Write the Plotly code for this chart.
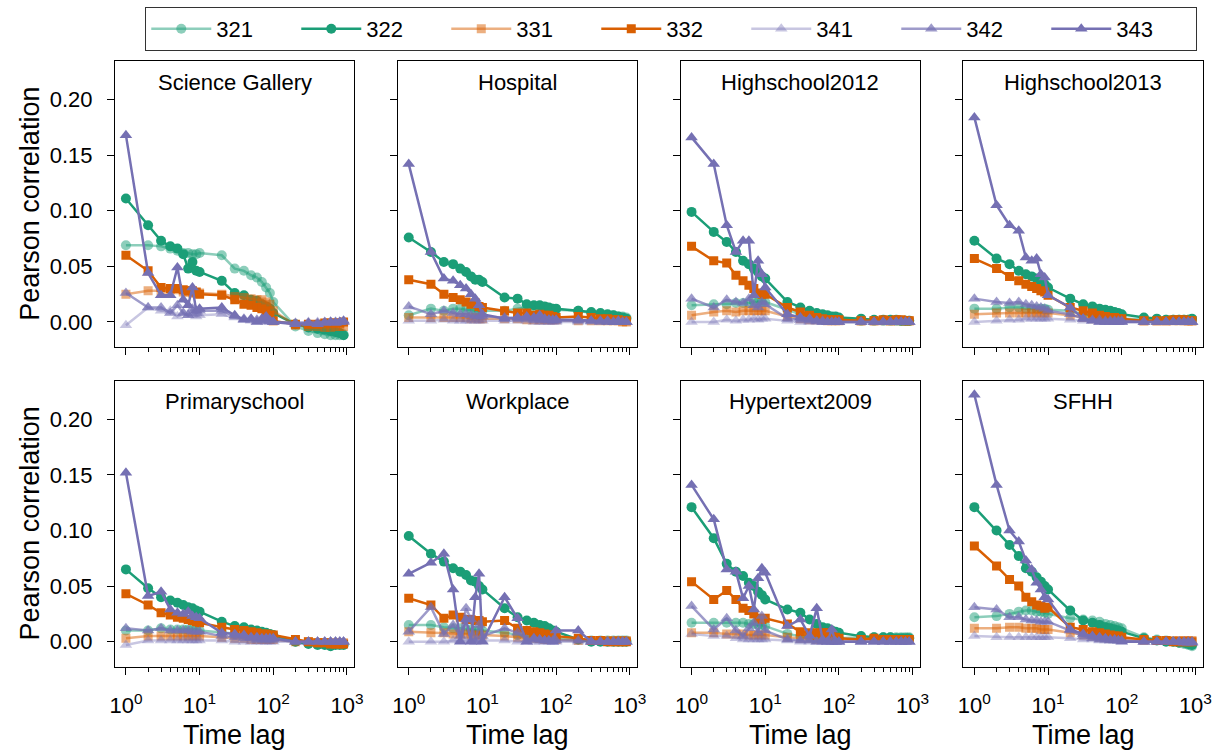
import plotly.graph_objects as go

# ---------------- data ----------------
lags = [1, 2, 3, 4, 5, 6, 7, 8, 9, 10, 20, 30, 40, 50, 60, 70, 80, 90, 100,
        200, 300, 400, 500, 600, 700, 800, 900]
series_names = ["321", "322", "331", "332", "341", "342", "343"]
panel_titles = ["Science Gallery", "Hospital", "Highschool2012", "Highschool2013",
                "Primaryschool", "Workplace", "Hypertext2009", "SFHH"]
y_tick_values = [0.0, 0.05, 0.10, 0.15, 0.20]
y_tick_labels = ["0.00", "0.05", "0.10", "0.15", "0.20"]
x_tick_values = [1, 10, 100, 1000]
x_tick_labels = ["10<sup>0</sup>", "10<sup>1</sup>", "10<sup>2</sup>", "10<sup>3</sup>"]
x_minor_values = [2, 3, 4, 5, 6, 7, 8, 9, 20, 30, 40, 50, 60, 70, 80, 90,
                  200, 300, 400, 500, 600, 700, 800, 900]
y_label = "Pearson correlation"
x_label = "Time lag"

# Science Gallery
sg_321 = [0.069, 0.069, 0.068, 0.066, 0.064, 0.062, 0.062, 0.061, 0.061, 0.062, 0.060, 0.048, 0.046, 0.042, 0.040, 0.036, 0.031, 0.026, 0.018, -0.004, -0.008, -0.010, -0.011, -0.012, -0.012, -0.012, -0.011]
sg_322 = [0.111, 0.087, 0.073, 0.068, 0.066, 0.061, 0.048, 0.054, 0.046, 0.045, 0.037, 0.026, 0.024, 0.020, 0.019, 0.016, 0.014, 0.012, 0.008, -0.002, -0.005, -0.006, -0.007, -0.008, -0.009, -0.010, -0.012]
sg_331 = [0.025, 0.028, 0.028, 0.029, 0.029, 0.027, 0.027, 0.026, 0.026, 0.026, 0.025, 0.023, 0.022, 0.021, 0.020, 0.020, 0.018, 0.016, 0.010, -0.003, -0.004, -0.004, -0.005, -0.005, -0.004, -0.004, -0.004]
sg_332 = [0.060, 0.046, 0.031, 0.030, 0.030, 0.029, 0.028, 0.028, 0.027, 0.025, 0.024, 0.020, 0.016, 0.015, 0.013, 0.012, 0.010, 0.006, 0.001, -0.002, -0.002, -0.002, -0.001, -0.001, -0.001, -0.001, 0.000]
sg_341 = [-0.003, 0.013, 0.010, 0.010, 0.005, 0.008, 0.006, 0.007, 0.005, 0.006, 0.007, 0.004, 0.002, 0.001, 0.001, 0.001, 0.000, 0.000, 0.000, -0.001, 0.000, 0.000, 0.000, 0.000, 0.000, 0.000, 0.000]
sg_342 = [0.026, 0.013, 0.013, 0.008, 0.015, 0.008, 0.006, 0.012, 0.008, 0.010, 0.010, 0.005, 0.003, 0.002, 0.002, 0.001, 0.001, 0.001, 0.000, -0.001, -0.001, -0.001, 0.000, 0.000, 0.000, 0.000, 0.000]
sg_343 = [0.168, 0.044, 0.024, 0.024, 0.049, 0.020, 0.015, 0.031, 0.010, 0.012, 0.013, 0.006, 0.002, 0.003, 0.000, 0.003, 0.005, 0.001, 0.000, -0.002, -0.001, -0.002, -0.001, 0.000, -0.001, 0.000, 0.001]

# Hospital
ho_321 = [0.006, 0.012, 0.010, 0.012, 0.012, 0.011, 0.011, 0.010, 0.010, 0.010, 0.010, 0.012, 0.013, 0.013, 0.013, 0.012, 0.012, 0.012, 0.011, 0.010, 0.008, 0.007, 0.006, 0.006, 0.005, 0.005, 0.004]
ho_322 = [0.076, 0.063, 0.054, 0.052, 0.048, 0.045, 0.041, 0.038, 0.038, 0.036, 0.022, 0.021, 0.016, 0.015, 0.015, 0.014, 0.013, 0.012, 0.012, 0.010, 0.009, 0.008, 0.007, 0.006, 0.005, 0.004, 0.003]
ho_331 = [0.004, 0.004, 0.004, 0.004, 0.004, 0.004, 0.003, 0.004, 0.003, 0.003, 0.003, 0.003, 0.002, 0.002, 0.002, 0.002, 0.002, 0.002, 0.002, 0.001, 0.001, 0.001, 0.001, 0.001, 0.001, 0.000, 0.000]
ho_332 = [0.038, 0.034, 0.025, 0.022, 0.020, 0.018, 0.016, 0.017, 0.014, 0.013, 0.010, 0.008, 0.008, 0.006, 0.007, 0.006, 0.006, 0.005, 0.004, 0.005, 0.004, 0.003, 0.003, 0.002, 0.002, 0.001, 0.001]
ho_341 = [0.001, 0.001, 0.002, 0.001, 0.001, 0.001, 0.001, 0.001, 0.001, 0.001, 0.001, 0.001, 0.001, 0.000, 0.000, 0.000, 0.000, 0.000, 0.000, 0.000, 0.000, 0.000, 0.000, 0.000, 0.000, 0.000, 0.000]
ho_342 = [0.014, 0.007, 0.010, 0.008, 0.007, 0.007, 0.006, 0.005, 0.005, 0.005, 0.004, 0.003, 0.003, 0.002, 0.002, 0.002, 0.002, 0.001, 0.001, 0.001, 0.001, 0.000, 0.000, 0.000, 0.000, 0.000, 0.000]
ho_343 = [0.142, 0.063, 0.039, 0.037, 0.033, 0.030, 0.025, 0.021, 0.015, 0.007, 0.003, 0.004, 0.005, 0.004, 0.006, 0.003, 0.002, 0.002, 0.002, 0.002, 0.001, 0.001, 0.001, 0.000, 0.001, 0.000, 0.000]

# Highschool2012
h12_321 = [0.015, 0.016, 0.016, 0.017, 0.017, 0.017, 0.018, 0.018, 0.018, 0.018, 0.011, 0.007, 0.005, 0.004, 0.003, 0.003, 0.002, 0.002, 0.002, 0.001, 0.001, 0.001, 0.001, 0.001, 0.001, 0.001, 0.001]
h12_322 = [0.099, 0.081, 0.072, 0.063, 0.055, 0.052, 0.048, 0.045, 0.041, 0.039, 0.018, 0.013, 0.010, 0.008, 0.007, 0.006, 0.005, 0.005, 0.004, 0.003, 0.002, 0.002, 0.002, 0.002, 0.001, 0.001, 0.001]
h12_331 = [0.006, 0.009, 0.010, 0.009, 0.010, 0.010, 0.010, 0.010, 0.010, 0.010, 0.005, 0.003, 0.002, 0.002, 0.002, 0.001, 0.001, 0.001, 0.001, 0.001, 0.001, 0.001, 0.001, 0.001, 0.001, 0.001, 0.001]
h12_332 = [0.068, 0.055, 0.053, 0.042, 0.037, 0.033, 0.030, 0.026, 0.025, 0.025, 0.013, 0.009, 0.006, 0.004, 0.003, 0.002, 0.002, 0.002, 0.002, 0.001, 0.001, 0.002, 0.001, 0.002, 0.002, 0.001, 0.001]
h12_341 = [0.000, 0.000, 0.002, 0.001, 0.002, 0.002, 0.003, 0.002, 0.003, 0.003, 0.001, 0.000, 0.000, 0.000, 0.000, 0.000, 0.000, 0.000, 0.000, 0.000, 0.000, 0.000, 0.000, 0.000, 0.000, 0.000, 0.000]
h12_342 = [0.021, 0.013, 0.020, 0.018, 0.017, 0.021, 0.015, 0.013, 0.018, 0.016, 0.003, 0.002, 0.001, 0.001, 0.001, 0.000, 0.000, 0.000, 0.000, 0.000, 0.000, 0.000, 0.000, 0.000, 0.000, 0.000, 0.000]
h12_343 = [0.166, 0.142, 0.087, 0.063, 0.073, 0.073, 0.024, 0.055, 0.043, 0.031, 0.007, 0.004, 0.003, 0.001, 0.000, 0.000, 0.000, 0.000, 0.000, 0.000, 0.000, 0.000, 0.000, 0.000, 0.000, 0.000, 0.000]

# Highschool2013
h13_321 = [0.012, 0.012, 0.013, 0.013, 0.012, 0.012, 0.012, 0.012, 0.012, 0.011, 0.010, 0.007, 0.006, 0.005, 0.004, 0.004, 0.003, 0.003, 0.003, 0.002, 0.002, 0.002, 0.002, 0.002, 0.002, 0.002, 0.002]
h13_322 = [0.073, 0.057, 0.052, 0.046, 0.043, 0.041, 0.039, 0.036, 0.034, 0.031, 0.021, 0.016, 0.014, 0.012, 0.011, 0.010, 0.009, 0.008, 0.007, 0.004, 0.003, 0.002, 0.002, 0.002, 0.002, 0.002, 0.003]
h13_331 = [0.007, 0.008, 0.008, 0.008, 0.008, 0.008, 0.008, 0.008, 0.008, 0.008, 0.006, 0.004, 0.003, 0.003, 0.002, 0.002, 0.002, 0.002, 0.002, 0.001, 0.001, 0.001, 0.001, 0.001, 0.001, 0.001, 0.001]
h13_332 = [0.057, 0.048, 0.041, 0.037, 0.034, 0.032, 0.030, 0.028, 0.027, 0.024, 0.013, 0.010, 0.008, 0.006, 0.005, 0.004, 0.004, 0.003, 0.003, 0.001, 0.001, 0.001, 0.002, 0.002, 0.002, 0.001, 0.001]
h13_341 = [0.000, 0.001, 0.002, 0.002, 0.003, 0.003, 0.003, 0.003, 0.003, 0.003, 0.002, 0.001, 0.001, 0.000, 0.000, 0.000, 0.000, 0.000, 0.000, 0.000, 0.000, 0.000, 0.000, 0.000, 0.000, 0.000, 0.000]
h13_342 = [0.021, 0.018, 0.017, 0.018, 0.016, 0.015, 0.014, 0.013, 0.012, 0.010, 0.007, 0.003, 0.002, 0.002, 0.001, 0.001, 0.001, 0.001, 0.001, 0.000, 0.000, 0.000, 0.000, 0.000, 0.000, 0.000, 0.000]
h13_343 = [0.184, 0.105, 0.087, 0.082, 0.058, 0.055, 0.057, 0.043, 0.040, 0.024, 0.013, 0.003, 0.001, 0.000, 0.000, 0.000, 0.000, 0.000, 0.000, 0.000, 0.000, 0.000, 0.000, 0.000, 0.000, 0.000, 0.000]

# Primaryschool
ps_321 = [0.010, 0.010, 0.012, 0.011, 0.011, 0.011, 0.011, 0.011, 0.011, 0.010, 0.008, 0.007, 0.006, 0.006, 0.005, 0.005, 0.005, 0.004, 0.004, 0.000, -0.001, -0.002, -0.002, -0.002, -0.002, -0.002, -0.002]
ps_322 = [0.065, 0.048, 0.040, 0.037, 0.035, 0.033, 0.031, 0.030, 0.028, 0.027, 0.018, 0.014, 0.013, 0.011, 0.010, 0.009, 0.008, 0.007, 0.006, 0.000, -0.002, -0.003, -0.003, -0.004, -0.003, -0.003, -0.003]
ps_331 = [0.003, 0.005, 0.005, 0.005, 0.005, 0.005, 0.005, 0.005, 0.005, 0.005, 0.004, 0.003, 0.003, 0.002, 0.002, 0.002, 0.002, 0.002, 0.002, 0.000, 0.000, -0.001, -0.001, -0.001, -0.001, -0.001, -0.001]
ps_332 = [0.043, 0.033, 0.026, 0.024, 0.022, 0.021, 0.020, 0.019, 0.018, 0.017, 0.013, 0.011, 0.010, 0.009, 0.008, 0.007, 0.007, 0.006, 0.006, 0.002, 0.000, -0.001, -0.001, -0.002, -0.002, -0.002, -0.002]
ps_341 = [-0.003, 0.001, 0.001, 0.001, 0.001, 0.001, 0.001, 0.001, 0.001, 0.001, 0.001, 0.000, 0.000, 0.000, 0.000, 0.000, 0.000, 0.000, 0.000, 0.000, 0.000, 0.000, 0.000, 0.000, 0.000, 0.000, 0.000]
ps_342 = [0.012, 0.010, 0.012, 0.010, 0.010, 0.010, 0.010, 0.009, 0.009, 0.009, 0.005, 0.004, 0.003, 0.003, 0.002, 0.002, 0.002, 0.002, 0.002, 0.000, 0.000, 0.000, 0.000, 0.000, 0.000, 0.000, 0.000]
ps_343 = [0.152, 0.041, 0.045, 0.029, 0.026, 0.025, 0.027, 0.023, 0.022, 0.021, 0.008, 0.007, 0.006, 0.004, 0.004, 0.003, 0.003, 0.003, 0.003, 0.000, 0.000, 0.000, 0.000, 0.000, 0.000, 0.000, 0.000]

# Workplace
wp_321 = [0.015, 0.015, 0.013, 0.012, 0.012, 0.011, 0.011, 0.010, 0.010, 0.010, 0.008, 0.006, 0.005, 0.005, 0.004, 0.004, 0.004, 0.003, 0.003, 0.002, 0.001, 0.001, 0.001, 0.001, 0.001, 0.001, 0.001]
wp_322 = [0.095, 0.079, 0.072, 0.066, 0.063, 0.060, 0.055, 0.054, 0.050, 0.047, 0.030, 0.022, 0.019, 0.017, 0.015, 0.014, 0.012, 0.010, 0.009, 0.002, 0.000, 0.000, 0.000, 0.000, 0.000, 0.000, 0.000]
wp_331 = [0.009, 0.008, 0.008, 0.007, 0.007, 0.007, 0.006, 0.006, 0.006, 0.006, 0.005, 0.004, 0.003, 0.003, 0.003, 0.002, 0.002, 0.002, 0.002, 0.001, 0.001, 0.001, 0.001, 0.001, 0.001, 0.001, 0.001]
wp_332 = [0.039, 0.033, 0.021, 0.024, 0.022, 0.020, 0.020, 0.019, 0.019, 0.018, 0.019, 0.012, 0.010, 0.009, 0.008, 0.007, 0.006, 0.006, 0.005, 0.003, 0.001, 0.001, 0.000, 0.000, 0.000, 0.000, 0.000]
wp_341 = [0.000, 0.000, 0.000, 0.001, 0.001, 0.001, 0.001, 0.001, 0.001, 0.001, 0.001, 0.000, 0.000, 0.000, 0.000, 0.000, 0.000, 0.000, 0.000, 0.000, 0.000, 0.000, 0.000, 0.000, 0.000, 0.000, 0.000]
wp_342 = [0.009, 0.031, 0.007, 0.015, 0.005, 0.030, 0.020, 0.000, 0.015, 0.005, 0.012, 0.008, 0.002, 0.002, 0.002, 0.001, 0.001, 0.001, 0.001, 0.001, 0.000, 0.000, 0.000, 0.000, 0.000, 0.000, 0.000]
wp_343 = [0.061, 0.071, 0.079, 0.047, 0.000, 0.020, 0.000, 0.040, 0.061, 0.000, 0.040, 0.021, 0.000, 0.003, 0.002, 0.001, 0.001, 0.000, 0.010, 0.010, 0.000, 0.000, 0.000, 0.000, 0.000, 0.000, 0.000]

# Hypertext2009
ht_321 = [0.017, 0.017, 0.017, 0.017, 0.017, 0.016, 0.016, 0.015, 0.015, 0.014, 0.007, 0.005, 0.004, 0.004, 0.003, 0.003, 0.003, 0.003, 0.003, 0.004, 0.004, 0.004, 0.004, 0.004, 0.004, 0.004, 0.004]
ht_322 = [0.121, 0.093, 0.070, 0.063, 0.059, 0.053, 0.050, 0.045, 0.042, 0.038, 0.029, 0.026, 0.020, 0.016, 0.013, 0.012, 0.010, 0.009, 0.008, 0.005, 0.004, 0.004, 0.004, 0.003, 0.003, 0.003, 0.003]
ht_331 = [0.008, 0.008, 0.007, 0.007, 0.007, 0.006, 0.006, 0.006, 0.006, 0.006, 0.004, 0.003, 0.003, 0.002, 0.002, 0.002, 0.002, 0.002, 0.002, 0.002, 0.002, 0.002, 0.002, 0.002, 0.002, 0.002, 0.002]
ht_332 = [0.054, 0.038, 0.046, 0.038, 0.030, 0.028, 0.025, 0.021, 0.020, 0.021, 0.016, 0.009, 0.008, 0.008, 0.008, 0.008, 0.007, 0.004, 0.003, 0.002, 0.003, 0.002, 0.002, 0.002, 0.002, 0.002, 0.002]
ht_341 = [0.007, 0.005, 0.005, 0.003, 0.002, 0.002, 0.002, 0.002, 0.002, 0.002, 0.001, 0.000, 0.000, 0.000, 0.000, 0.000, 0.000, 0.000, 0.000, 0.000, 0.000, 0.000, 0.000, 0.000, 0.000, 0.000, 0.000]
ht_342 = [0.032, 0.011, 0.021, 0.010, 0.005, 0.012, 0.017, 0.008, 0.023, 0.010, 0.002, 0.001, 0.001, 0.000, 0.000, 0.000, 0.000, 0.000, 0.000, 0.000, 0.000, 0.000, 0.000, 0.000, 0.000, 0.000, 0.000]
ht_343 = [0.141, 0.110, 0.065, 0.063, 0.039, 0.050, 0.029, 0.057, 0.066, 0.062, 0.014, 0.020, 0.005, 0.030, 0.002, 0.000, 0.011, 0.000, 0.000, 0.000, 0.000, 0.000, 0.000, 0.000, 0.000, 0.000, 0.000]

# SFHH
sf_321 = [0.022, 0.023, 0.025, 0.027, 0.028, 0.028, 0.027, 0.027, 0.026, 0.025, 0.021, 0.020, 0.019, 0.018, 0.016, 0.015, 0.014, 0.013, 0.012, 0.004, 0.002, 0.001, 0.000, -0.001, -0.002, -0.003, -0.004]
sf_322 = [0.121, 0.100, 0.087, 0.077, 0.066, 0.063, 0.058, 0.054, 0.050, 0.047, 0.028, 0.019, 0.017, 0.015, 0.013, 0.012, 0.011, 0.010, 0.009, 0.003, 0.001, 0.000, 0.000, -0.001, -0.001, -0.002, -0.003]
sf_331 = [0.012, 0.012, 0.013, 0.013, 0.012, 0.012, 0.012, 0.011, 0.011, 0.011, 0.008, 0.006, 0.005, 0.004, 0.004, 0.003, 0.003, 0.003, 0.002, 0.001, 0.001, 0.001, 0.001, 0.001, 0.001, 0.001, 0.001]
sf_332 = [0.086, 0.068, 0.056, 0.050, 0.040, 0.036, 0.033, 0.032, 0.030, 0.031, 0.013, 0.011, 0.009, 0.008, 0.007, 0.006, 0.005, 0.005, 0.004, 0.002, 0.001, 0.001, 0.000, 0.000, 0.000, 0.000, 0.000]
sf_341 = [0.005, 0.004, 0.004, 0.004, 0.004, 0.004, 0.004, 0.004, 0.004, 0.004, 0.003, 0.002, 0.002, 0.001, 0.001, 0.001, 0.001, 0.001, 0.001, 0.000, 0.000, 0.000, 0.000, 0.000, 0.000, 0.000, 0.000]
sf_342 = [0.031, 0.029, 0.022, 0.022, 0.020, 0.019, 0.019, 0.018, 0.018, 0.018, 0.010, 0.005, 0.003, 0.002, 0.002, 0.001, 0.001, 0.001, 0.001, 0.000, 0.000, 0.000, 0.000, 0.000, 0.000, 0.000, 0.000]
sf_343 = [0.222, 0.141, 0.100, 0.090, 0.073, 0.065, 0.053, 0.047, 0.040, 0.038, 0.011, 0.007, 0.005, 0.004, 0.003, 0.002, 0.002, 0.001, 0.000, 0.000, 0.000, 0.000, 0.000, 0.000, -0.001, -0.001, -0.001]

panel_series = [
    [sg_321, sg_322, sg_331, sg_332, sg_341, sg_342, sg_343],
    [ho_321, ho_322, ho_331, ho_332, ho_341, ho_342, ho_343],
    [h12_321, h12_322, h12_331, h12_332, h12_341, h12_342, h12_343],
    [h13_321, h13_322, h13_331, h13_332, h13_341, h13_342, h13_343],
    [ps_321, ps_322, ps_331, ps_332, ps_341, ps_342, ps_343],
    [wp_321, wp_322, wp_331, wp_332, wp_341, wp_342, wp_343],
    [ht_321, ht_322, ht_331, ht_332, ht_341, ht_342, ht_343],
    [sf_321, sf_322, sf_331, sf_332, sf_341, sf_342, sf_343],
]

# ---------------- styles ----------------
colors = ["rgba(27,158,119,0.5)", "rgb(27,158,119)",
          "rgba(217,95,2,0.5)", "rgb(217,95,2)",
          "rgba(117,112,179,0.4)", "rgba(117,112,179,0.7)", "rgb(117,112,179)"]
symbols = ["circle", "circle", "square", "square", "triangle-up", "triangle-up", "triangle-up"]
sizes = [10, 10, 9, 9, 11, 11, 11]

W, H = 1221, 753
FONT = "Liberation Sans, Arial, sans-serif"
col_left = [111.3, 397.4, 683.5, 969.6]
col_w = 242.2
row_top = [61.0, 380.7]
row_h = 286.0

def px_x(p):
    return p / W

def px_y(p):
    return 1 - p / H

fig = go.Figure()
layout = dict(
    width=W, height=H, autosize=False,
    margin=dict(l=0, r=0, t=0, b=0),
    paper_bgcolor="white", plot_bgcolor="white",
    font=dict(family=FONT, size=21, color="black"),
    showlegend=True,
)
annotations = []

for i in range(8):
    r, c = divmod(i, 4)
    n = "" if i == 0 else str(i + 1)
    xa, ya = "x" + n, "y" + n
    for k in range(7):
        fig.add_trace(go.Scatter(
            x=lags, y=panel_series[i][k], mode="lines+markers",
            name=series_names[k], legendgroup=series_names[k],
            showlegend=(i == 0),
            line=dict(color=colors[k], width=2.5),
            marker=dict(symbol=symbols[k], size=sizes[k], color=colors[k], line=dict(width=0)),
            xaxis=xa, yaxis=ya,
        ))
    x0 = col_left[c]
    y0 = row_top[r]
    layout["xaxis" + n] = dict(
        type="log", range=[-0.148, 3.102],
        domain=[px_x(x0), px_x(x0 + col_w)], anchor=ya,
        showline=True, mirror=True, linecolor="black", linewidth=1.3,
        ticks="outside", ticklen=7, tickwidth=1.3, tickcolor="black",
        tickmode="array", tickvals=x_tick_values, ticktext=x_tick_labels,
        showticklabels=(r == 1), ticklabelstandoff=12,
        tickfont=dict(size=22, family=FONT, color="black"),
        minor=dict(tickmode="array", tickvals=x_minor_values, ticks="outside",
                   ticklen=4, tickwidth=1, tickcolor="black", showgrid=False),
        showgrid=False, zeroline=False,
    )
    layout["yaxis" + n] = dict(
        range=[-0.0225, 0.2347],
        domain=[px_y(y0 + row_h), px_y(y0)], anchor=xa,
        showline=True, mirror=True, linecolor="black", linewidth=1.3,
        ticks="outside", ticklen=7, tickwidth=1.3, tickcolor="black",
        tickmode="array", tickvals=y_tick_values, ticktext=y_tick_labels,
        showticklabels=(c == 0), ticklabelstandoff=10,
        tickfont=dict(size=22, family=FONT, color="black"),
        showgrid=False, zeroline=False,
    )
    annotations.append(dict(
        text=panel_titles[i], xref="paper", yref="paper",
        x=px_x(x0 + col_w / 2), y=px_y(y0 + 21), xanchor="center", yanchor="middle",
        showarrow=False, font=dict(size=22, family=FONT, color="black"),
    ))
    if c == 0:
        annotations.append(dict(
            text=y_label, xref="paper", yref="paper", textangle=-90,
            x=px_x(25), y=px_y(y0 + row_h / 2), xanchor="center", yanchor="middle",
            showarrow=False, font=dict(size=27, family=FONT, color="black"),
        ))
    if r == 1:
        annotations.append(dict(
            text=x_label, xref="paper", yref="paper",
            x=px_x(x0 + col_w / 2), y=px_y(735), xanchor="center", yanchor="middle",
            showarrow=False, font=dict(size=27, family=FONT, color="black"),
        ))

layout["annotations"] = annotations
layout["legend"] = dict(
    orientation="h", x=px_x(674), xanchor="center", y=px_y(7), yanchor="top",
    bordercolor="#333333", borderwidth=1, bgcolor="white",
    font=dict(size=22, family=FONT, color="black"),
    entrywidth=75, entrywidthmode="pixels", itemwidth=60, traceorder="normal",
)
fig.update_layout(**layout)
fig.write_html("out.html")
